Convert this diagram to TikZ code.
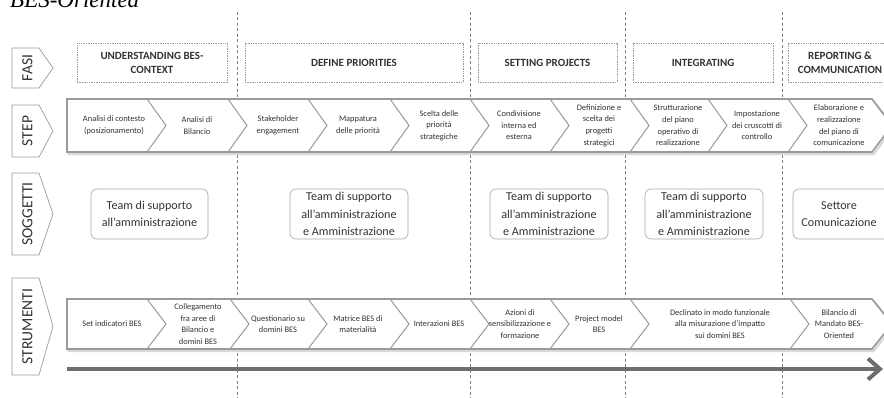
\documentclass[tikz,border=0pt]{standalone}
\usepackage{fontspec}
\setmainfont{Carlito}
\newfontfamily\serifit{Liberation Serif}
\usetikzlibrary{arrows.meta,positioning,calc}
\definecolor{framegray}{HTML}{9A9A9A}
\definecolor{textgray}{HTML}{333333}
\definecolor{arrowgray}{HTML}{6E6E6E}

\begin{document}
\begin{tikzpicture}[
  x=1pt, y=-1pt,
  every node/.style={text=textgray},
  tag/.style={draw=framegray, fill=white, line width=0.7pt, line join=round},
  tagtxt/.style={rotate=90, font=\fontsize{15.5}{16}\selectfont},
  phase/.style={draw=framegray, dash pattern=on 1.4pt off 1pt, line width=0.5pt, minimum height=39, inner sep=0pt, align=center, font=\bfseries\fontsize{11}{14}\selectfont},
  band/.style={draw=framegray, fill=white, line width=1.6pt, line join=miter},
  bandshadow/.style={draw=black!15, line width=2.4pt},
  sep/.style={draw=framegray, line width=1pt},
  steptxt/.style={font=\fontsize{8.4}{11.6}\selectfont, align=center, inner sep=0pt},
  subj/.style={draw=black!35, rounded corners=6pt, line width=0.6pt, minimum height=50, inner sep=0pt},
  subjtxt/.style={font=\fontsize{12.1}{17.5}\selectfont, align=center, inner sep=0pt},
  divider/.style={draw=black!50, dash pattern=on 3pt off 2.5pt, line width=0.6pt},
  timeline/.style={-{Straight Barb[length=12pt,width=21pt]}, line width=4pt, draw=arrowgray}
]
\useasboundingbox (0,0) rectangle (884,398);
\clip (0,0) rectangle (884,398);

% title, cut by the top edge
\node[anchor=base west, inner sep=0pt, font=\serifit\itshape\fontsize{23}{23}\selectfont, text=black] (title) at (10,8) {BES-Oriented};

% phase dividers
\foreach \x in {237,470,625,782}{\draw[divider] (\x,12) -- (\x,398);}

% row labels
\foreach \t/\b/\lab/\nm in {48/88/FASI/lblfasi, 105/157/STEP/lblstep, 173/255/SOGGETTI/lblsogg, 278/375/STRUMENTI/lblstrum}{
  \draw[tag] (12,\t) -- (39,\t) -- (53,{(\t+\b)/2}) -- (39,\b) -- (12,\b) -- cycle;
  \node[tagtxt] (\nm) at (27.5,{(\t+\b)/2}) {\lab};
}

% fasi
\node[phase, minimum width=150] (ph1) at (152,62.5) {UNDERSTANDING BES-\\CONTEXT};
\node[phase, minimum width=218] (ph2) at (354,62.5) {DEFINE PRIORITIES};
\node[phase, minimum width=139] (ph3) at (547.5,62.5) {SETTING PROJECTS};
\node[phase, minimum width=140] (ph4) at (703,62.5) {INTEGRATING};
\node[phase, minimum width=104] (ph5) at (840,62.5) {REPORTING \&\\COMMUNICATION};

% chevron bands
\foreach \t/\b in {99/152, 299/349}{
  \draw[bandshadow, xshift=1.5pt, yshift=-2pt] (67,\t) -- (872,\t) -- (892,{(\t+\b)/2}) -- (872,\b) -- (67,\b) -- cycle;
  \draw[band] (67,\t) -- (872,\t) -- (892,{(\t+\b)/2}) -- (872,\b) -- (67,\b) -- cycle;
}
\foreach \x in {147,228,308,390,470,550,630,708,788}{\draw[sep] (\x,99) -- (\x+19,125.5) -- (\x,152);}
\foreach \x in {147,230,308,390,470,550,630,790}{\draw[sep] (\x,299) -- (\x+19,324) -- (\x,349);}

% step
\foreach \x/\txt [count=\i] in {
  114/{Analisi di contesto\\(posizionamento)},
  197/{Analisi di\\Bilancio},
  278/{Stakeholder\\engagement},
  358/{Mappatura\\delle priorità},
  439/{Scelta delle\\priorità\\strategiche},
  519/{Condivisione\\interna ed\\esterna},
  599/{Definizione e\\scelta dei\\progetti\\strategici},
  678/{Strutturazione\\del piano\\operativo di\\realizzazione},
  757/{Impostazione\\dei cruscotti di\\controllo},
  839/{Elaborazione e\\realizzazione\\del piano di\\comunicazione}}{
  \node[steptxt] (st\i) at (\x,125.5) {\txt};
}

% soggetti
\foreach \x/\w/\tx/\txt [count=\i] in {
  149.5/117/149.5/{Team di supporto\\all’amministrazione},
  349/118/349/{Team di supporto\\all’amministrazione\\e Amministrazione},
  549/118/549/{Team di supporto\\all’amministrazione\\e Amministrazione},
  704/118/704/{Team di supporto\\all’amministrazione\\e Amministrazione},
  850/114/839/{Settore\\Comunicazione}}{
  \node[subj, minimum width=\w] (so\i) at (\x,214) {};
  \node[subjtxt] (sot\i) at (\tx,214) {\txt};
}

% strumenti
\foreach \x/\txt [count=\i] in {
  112/{Set indicatori BES},
  198/{Collegamento\\fra aree di\\Bilancio e\\domini BES},
  278/{Questionario su\\domini BES},
  358/{Matrice BES di\\materialità},
  439/{Interazioni BES},
  520/{Azioni di\\sensibilizzazione e\\formazione},
  599/{Project model\\BES},
  720/{Declinato in modo funzionale\\alla misurazione d’impatto\\sui domini BES},
  839/{Bilancio di\\Mandato BES-\\Oriented}}{
  \node[steptxt] (tl\i) at (\x,324) {\txt};
}

% time arrow
\coordinate (tstart) at (67,369);
\coordinate (tend) at (883,369);
\draw[timeline] (tstart) -- (tend);
\end{tikzpicture}
\end{document}
